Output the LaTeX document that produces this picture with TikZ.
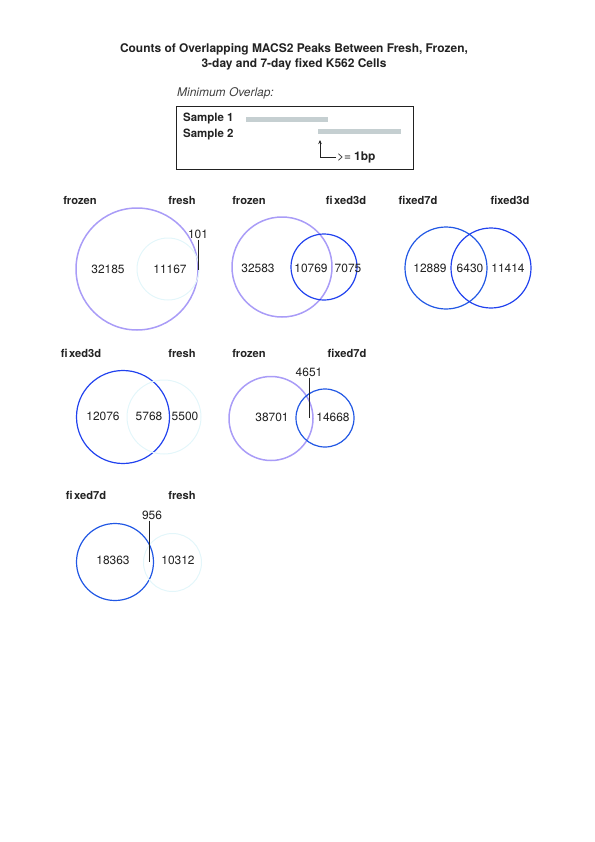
\documentclass[tikz,border=0pt]{standalone}
\usepackage{fontspec}
\setmainfont{TeX Gyre Heros}
\usetikzlibrary{arrows.meta}

\definecolor{frozencol}{HTML}{A99CF7}
\definecolor{freshcol}{HTML}{E3F6FA}
\definecolor{fixthreecol}{HTML}{2142EE}
\definecolor{fixsevencol}{HTML}{2258E4}
\definecolor{barcol}{HTML}{C5CFD1}
\definecolor{inkcol}{HTML}{222222}

\newcommand{\fixname}[1]{fi\kern1.5bp xed#1}

\begin{document}
\begin{tikzpicture}[x=1bp,y=-1bp,
  set/.style={circle,inner sep=0pt,line width=1.2bp},
  frozen/.style={set,draw=frozencol,line width=1.5bp},
  fresh/.style={set,draw=freshcol,line width=1bp},
  fixthree/.style={set,draw=fixthreecol},
  fixseven/.style={set,draw=fixsevencol},
  count/.style={font=\fontsize{12}{14}\selectfont,text=inkcol,inner sep=1pt},
  setname/.style={font=\bfseries\fontsize{11.2}{13}\selectfont,text=inkcol,inner sep=0pt},
  leader/.style={draw=inkcol,line width=0.6bp}]

\useasboundingbox (0,0) rectangle (595,842);

% title and legend
\node[font=\bfseries\fontsize{12}{15}\selectfont,text=inkcol,align=center] (title) at (294,56.5)
  {Counts of Overlapping MACS2 Peaks Between Fresh, Frozen,\\3-day and 7-day fixed K562 Cells};
\node[font=\itshape\fontsize{12}{14}\selectfont,text=black!75,anchor=west,inner sep=0pt] (minov) at (177,93) {Minimum Overlap:};
\draw[line width=0.8bp,draw=inkcol] (176,106) rectangle (413,169);
\node[setname,anchor=west,font=\bfseries\fontsize{11.5}{13}\selectfont] (samp1) at (183,119) {Sample 1};
\node[setname,anchor=west,font=\bfseries\fontsize{11.5}{13}\selectfont] (samp2) at (183,135) {Sample 2};
\draw[barcol,line width=5bp] (246,119.5) -- (328,119.5);
\draw[barcol,line width=5bp] (318,131) -- (401,131);
\coordinate (arrtip) at (320,140);
\node[font=\fontsize{12}{14}\selectfont,text=inkcol,anchor=west,inner sep=1pt] (minbp) at (336,157) {>=\kern3bp\textbf{1bp}};
\draw[leader,-{Stealth[length=4bp,width=3.5bp]}] (minbp.west) -| (arrtip);

% frozen vs fresh
\node[frozen,minimum size=122bp] (frozen1) at (137,269) {};
\node[fresh,minimum size=62bp] (fresh1) at (168,269) {};
\node[count] (a1) at (108,269) {32185};
\node[count] (b1) at (170,269) {11167};
\node[count] (c1) at (198,234) {101};
\coordinate (c1end) at (198,270);
\draw[leader] (c1.south) -- (c1end);
\node[setname] (frozenname1) at (80,200) {frozen};
\node[setname] (freshname1) at (182,200) {fresh};

% frozen vs fixed3d
\node[frozen,minimum size=100bp] (frozen2) at (282,267) {};
\node[fixthree,minimum size=66bp] (fixthree2) at (324,267) {};
\node[count] (a2) at (258,268) {32583};
\node[count] (b2) at (311,268) {10769};
\node[count] (c2) at (348,268) {7075};
\node[setname] (frozenname2) at (249,200) {frozen};
\node[setname] (fixthreename2) at (346,200) {\fixname{3d}};

% fixed7d vs fixed3d
\node[fixseven,minimum size=82bp] (fixseven3) at (446,268) {};
\node[fixthree,minimum size=80bp] (fixthree3) at (491,268) {};
\node[count] (a3) at (430,268) {12889};
\node[count] (b3) at (470,268) {6430};
\node[count] (c3) at (508,268) {11414};
\node[setname] (fixsevenname3) at (418,200) {fixed7d};
\node[setname] (fixthreename3) at (510,200) {fixed3d};

% fixed3d vs fresh
\node[fixthree,minimum size=93bp] (fixthree4) at (123,417) {};
\node[fresh,minimum size=74bp] (fresh4) at (164,417) {};
\node[count] (a4) at (103,416) {12076};
\node[count] (b4) at (149,416) {5768};
\node[count] (c4) at (185,416) {5500};
\node[setname] (fixthreename4) at (81,353) {\fixname{3d}};
\node[setname] (freshname4) at (182,353) {fresh};

% frozen vs fixed7d
\node[frozen,minimum size=84bp] (frozen5) at (271,418.5) {};
\node[fixseven,minimum size=58bp] (fixseven5) at (325,418) {};
\node[count] (a5) at (272,417) {38701};
\node[count] (b5) at (333,417) {14668};
\node[count] (c5) at (309,372) {4651};
\coordinate (c5end) at (309,418);
\draw[leader] (c5.south) -- (c5end);
\node[setname] (frozenname5) at (249,353) {frozen};
\node[setname] (fixsevenname5) at (347,353) {fixed7d};

% fixed7d vs fresh
\node[fixseven,minimum size=77bp] (fixseven6) at (115,562) {};
\node[fresh,minimum size=58bp] (fresh6) at (172.5,562.5) {};
\node[count] (a6) at (113,560) {18363};
\node[count] (b6) at (178,560) {10312};
\node[count] (c6) at (152,515) {956};
\coordinate (c6end) at (149,562);
\draw[leader] (c6.south -| c6end) -- (c6end);
\node[setname] (fixsevenname6) at (86,495) {\fixname{7d}};
\node[setname] (freshname6) at (182,495) {fresh};
\end{tikzpicture}
\end{document}
